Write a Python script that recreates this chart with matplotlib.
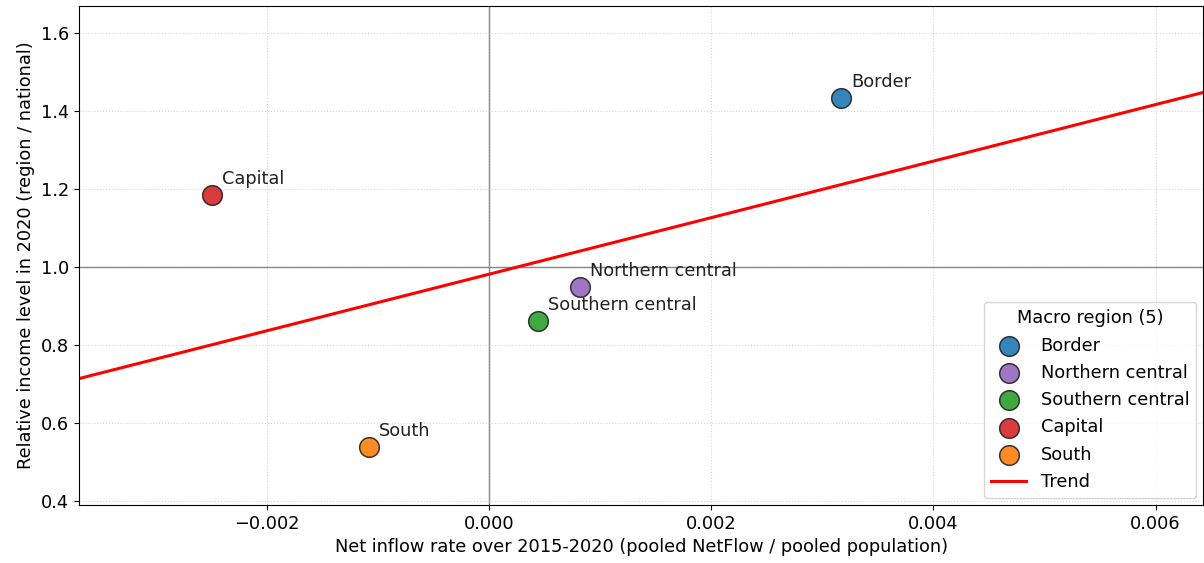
import numpy as np
import matplotlib.pyplot as plt

regions = ["Border", "Northern central", "Southern central", "Capital", "South"]
net_inflow = [0.00317, 0.00082, 0.00044, -0.00249, -0.00108]
rel_income = [1.433, 0.948, 0.862, 1.184, 0.539]
colors = ["tab:blue", "tab:purple", "tab:green", "tab:red", "tab:orange"]

fs = 12.8

fig, ax = plt.subplots(figsize=(12.04, 5.63), dpi=100)
fig.subplots_adjust(left=0.0656, right=0.9995, top=0.989, bottom=0.103)

ax.axhline(1.0, color="grey", lw=1, zorder=1)
ax.axvline(0.0, color="grey", lw=1, zorder=1)

for name, x, y, c in zip(regions, net_inflow, rel_income, colors):
    ax.scatter(x, y, s=200, color=c, alpha=0.9, edgecolor="#222222",
               linewidth=1.1, label=name, zorder=3)
    ax.annotate(name, (x, y), xytext=(7, 5), textcoords="offset points",
                ha="left", va="bottom", fontsize=fs, color="#222222")

xlim = (-0.00369, 0.00643)
ax.set_xlim(*xlim)
ax.set_ylim(0.389, 1.668)

# least squares trend across the regions
slope, intercept = np.polyfit(net_inflow, rel_income, 1)
xs = np.array(xlim)
ax.plot(xs, intercept + slope * xs, color="red", lw=2.2, label="Trend", zorder=2)

ax.grid(True, linestyle=":", alpha=0.5)
ax.set_xlabel("Net inflow rate over 2015-2020 (pooled NetFlow / pooled population)", fontsize=fs)
ax.set_ylabel("Relative income level in 2020 (region / national)", fontsize=fs)
ax.tick_params(labelsize=fs)

ax.legend(title="Macro region (5)", loc="lower right", fontsize=fs, title_fontsize=fs,
          borderaxespad=0.4, labelspacing=0.52)

fig.savefig("out.png", dpi=100)
